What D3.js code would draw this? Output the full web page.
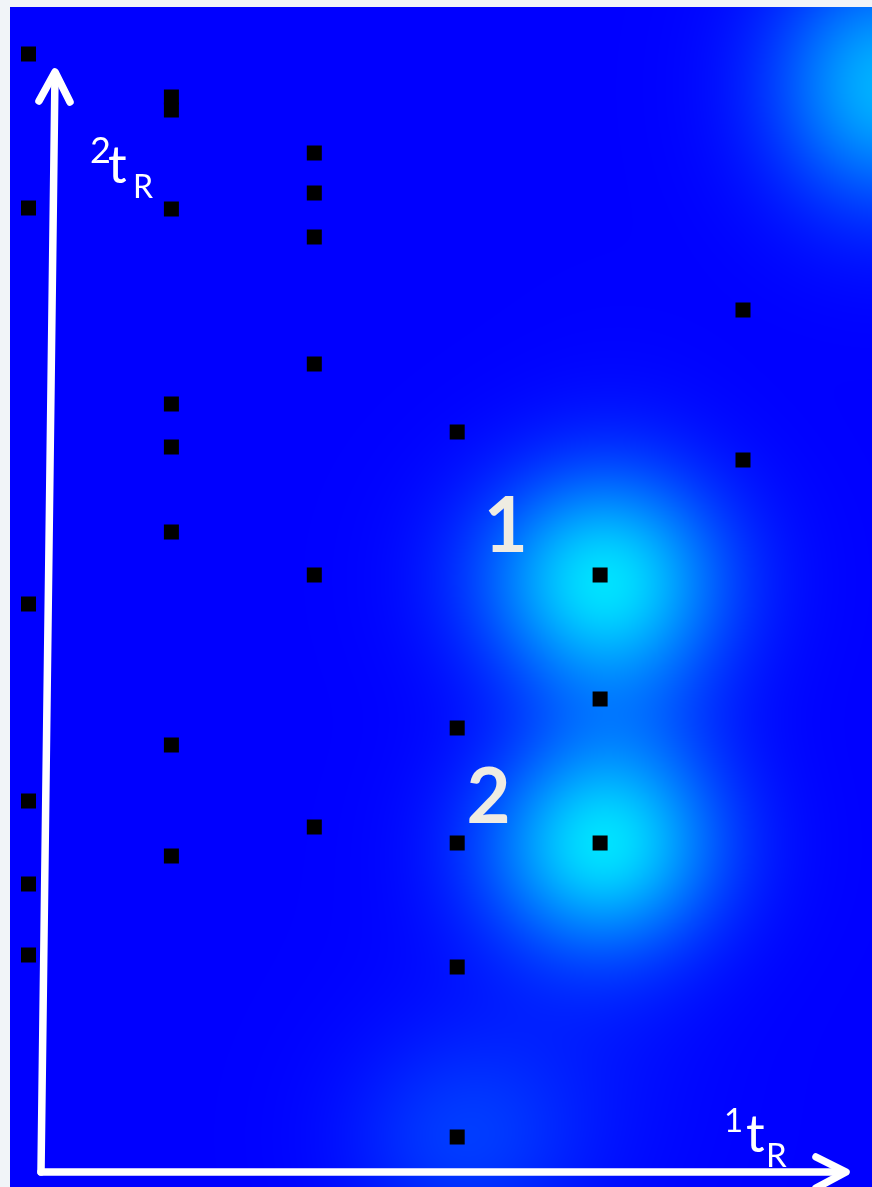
<!DOCTYPE html>
<html>
<head>
<meta charset="utf-8">
<script src="https://cdn.jsdelivr.net/npm/d3@7"></script>
<style>
  html, body { margin: 0; padding: 0; background: #f1f4f8; }
  #wrap { position: relative; width: 872px; height: 1187px; overflow: hidden; }
  #wrap canvas, #wrap svg { position: absolute; left: 0; top: 0; }
</style>
</head>
<body>
<div id="wrap"></div>
<script>
// First-dimension modulation index of each detected spot
const spotT1 = [
  1, 1, 1, 1, 1, 1,
  2, 2, 2, 2, 2, 2, 2, 2,
  3, 3, 3, 3, 3, 3,
  4, 4, 4, 4, 4,
  5, 5, 5,
  6, 6
];
// Second-dimension retention (s) of each detected spot
const spotT2 = [
  11.26, 9.72, 5.76, 3.79, 2.96, 2.25,
  10.83, 10.70, 9.71, 7.76, 7.33, 6.48, 4.35, 3.24,
  10.27, 9.87, 9.43, 8.16, 6.05, 3.53,
  7.48, 4.52, 3.37, 2.13, 0.43,
  6.05, 4.81, 3.37,
  8.70, 7.20
];

// Signal peaks of the intensity surface
const peakT1 = [5.0, 5.0, 5.15, 4.0, 7.0, 4.5];
const peakT2 = [6.02, 3.33, 4.7, 0.40, 10.95, 0.9];
const peakHeight = [0.86, 0.86, 0.2, 0.2, 0.78, 0.08];
const peakWidthT1 = [0.60, 0.58, 0.5, 0.55, 0.55, 0.7];
const peakWidthT2 = [0.75, 0.72, 1.5, 0.7, 0.85, 1.1];

// Annotated peaks
const peakLabels = ["1", "2"];
const peakLabelT1 = [4.34, 4.22];
const peakLabelT2 = [6.28, 3.57];

const W = 872, H = 1187;
const panel = { x0: 10, y0: 7, x1: 872, y1: 1187 };

const x = d3.scaleLinear().domain([1, 6]).range([28.5, 743]);
const y = d3.scaleLinear().domain([0, 11.8]).range([1180, 0]);

const color = d3.scaleLinear()
  .domain([0, 0.45, 1])
  .range(["#0000ff", "#0068ff", "#00e2ff"])
  .clamp(true);

const wrap = d3.select("#wrap");

// Intensity surface drawn to a canvas underneath the vector layer
const canvas = wrap.append("canvas").attr("width", W).attr("height", H);
const ctx = canvas.node().getContext("2d");
ctx.fillStyle = "#f1f4f8";
ctx.fillRect(0, 0, W, H);

const peaks = peakT1.map((t1, i) => ({
  cx: x(t1),
  cy: y(peakT2[i]),
  sx: Math.abs(x(t1 + peakWidthT1[i]) - x(t1)),
  sy: Math.abs(y(peakT2[i] + peakWidthT2[i]) - y(peakT2[i])),
  h: peakHeight[i]
}));

const pw = panel.x1 - panel.x0, ph = panel.y1 - panel.y0;
const img = ctx.createImageData(pw, ph);
for (let j = 0; j < ph; j++) {
  const py = panel.y0 + j;
  for (let i = 0; i < pw; i++) {
    const px = panel.x0 + i;
    let v = 0;
    for (const p of peaks) {
      const dx = (px - p.cx) / p.sx, dy = (py - p.cy) / p.sy;
      v += p.h * Math.exp(-0.5 * (dx * dx + dy * dy));
    }
    const c = d3.rgb(color(v));
    const k = (j * pw + i) * 4;
    img.data[k] = c.r; img.data[k + 1] = c.g; img.data[k + 2] = c.b; img.data[k + 3] = 255;
  }
}
ctx.putImageData(img, panel.x0, panel.y0);

// Vector layer: spots, axes, labels
const svg = wrap.append("svg").attr("width", W).attr("height", H);

const S = 15;
svg.append("g")
  .selectAll("rect")
  .data(spotT1.map((t1, i) => ({ t1, t2: spotT2[i] })))
  .join("rect")
  .attr("x", d => x(d.t1) - S / 2)
  .attr("y", d => y(d.t2) - S / 2)
  .attr("width", S)
  .attr("height", S)
  .attr("fill", "#000");

// Axis arrows
const axis = svg.append("g")
  .attr("fill", "none")
  .attr("stroke", "#ffffff")
  .attr("stroke-width", 7.5)
  .attr("stroke-linecap", "round")
  .attr("stroke-linejoin", "round");
const line = d3.line();
axis.append("path").attr("d", line([[41, 1172], [55, 74]]));
axis.append("path").attr("d", line([[39, 101], [55, 72], [70, 102]]));
axis.append("path").attr("d", line([[41, 1172], [843, 1172]]));
axis.append("path").attr("d", line([[816, 1157], [846, 1172], [816, 1188]]));

// Axis titles
const lab = svg.append("g").attr("fill", "#ffffff").attr("font-family", "Lato, 'Open Sans', sans-serif");
lab.append("text").attr("x", 90).attr("y", 163).attr("font-size", 36).text("2");
lab.append("text").attr("x", 108).attr("y", 183).attr("font-size", 52).text("t");
lab.append("text").attr("x", 133).attr("y", 198).attr("font-size", 32).text("R");

lab.append("text").attr("x", 724).attr("y", 1132).attr("font-size", 33).text("1");
lab.append("text").attr("x", 746).attr("y", 1152).attr("font-size", 52).text("t");
lab.append("text").attr("x", 766).attr("y", 1167).attr("font-size", 33).text("R");

// Peak numbers
svg.append("g")
  .selectAll("text")
  .data(peakLabels.map((s, i) => ({ s, t1: peakLabelT1[i], t2: peakLabelT2[i] })))
  .join("text")
  .attr("x", d => x(d.t1))
  .attr("y", d => y(d.t2))
  .attr("text-anchor", "middle")
  .attr("font-family", "Lato, 'Open Sans', sans-serif")
  .attr("font-weight", 700)
  .attr("font-size", 76)
  .attr("fill", "#efece2")
  .text(d => d.s);
</script>
</body>
</html>
